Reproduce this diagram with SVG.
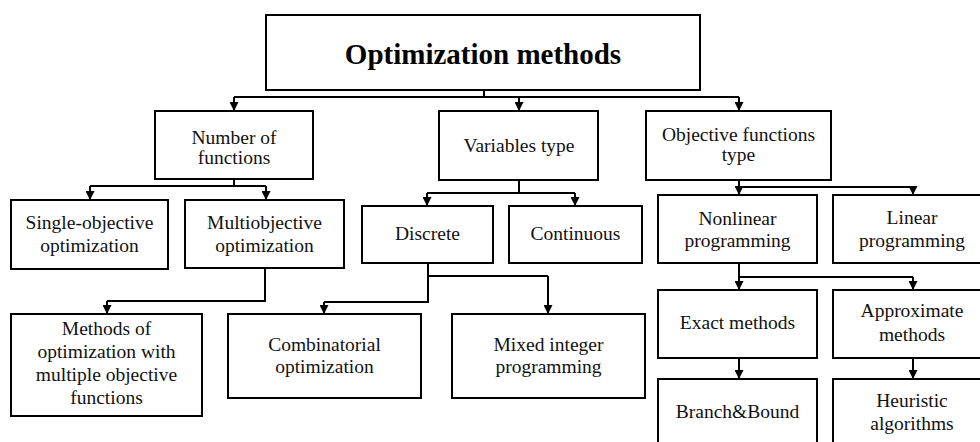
<svg xmlns="http://www.w3.org/2000/svg" width="980" height="442" viewBox="0 0 980 442">
<defs>
<marker id="arr" viewBox="0 0 10 10" refX="10" refY="5" markerWidth="9" markerHeight="9" markerUnits="userSpaceOnUse" orient="auto">
<path d="M0,0 L10,5 L0,10 z" fill="#000"/>
</marker>
<style>
.box{fill:#fff;stroke:#000;stroke-width:2}
.t{font-family:'Liberation Serif','Times New Roman',serif;font-size:19.5px;fill:#111;text-anchor:middle}
.title{font-family:'Liberation Serif','Times New Roman',serif;font-size:29px;font-weight:bold;fill:#000;text-anchor:middle}
.c{fill:none;stroke:#000;stroke-width:2}
.a{fill:none;stroke:#000;stroke-width:2;marker-end:url(#arr)}
</style>
</defs>
<rect width="980" height="442" fill="#fff"/>
<g id="connectors">
<path class="c" d="M484,90 V97 M234,97 H739"/>
<path class="a" d="M234,97 V111"/>
<path class="a" d="M519,97 V111"/>
<path class="a" d="M739,97 V111"/>
<path class="c" d="M234,179 V186 M90,186 H266"/>
<path class="a" d="M90,186 V200"/>
<path class="a" d="M266,186 V200"/>
<path class="c" d="M519,180 V193 M427,193 H575"/>
<path class="a" d="M427,193 V206"/>
<path class="a" d="M575,193 V206"/>
<path class="c" d="M739,180 V187 H913"/>
<path class="a" d="M739,187 V195"/>
<path class="a" d="M913,187 V195"/>
<path class="c" d="M265,268 V301 H107"/>
<path class="a" d="M107,301 V314"/>
<path class="c" d="M428,263 V302 H324 M428,276 H548"/>
<path class="a" d="M324,302 V314"/>
<path class="a" d="M548,276 V314"/>
<path class="c" d="M739,263 V277 H913"/>
<path class="a" d="M739,277 V290"/>
<path class="a" d="M913,277 V290"/>
<path class="a" d="M739,358 V379"/>
<path class="a" d="M913,358 V379"/>
</g>
<g id="root"><rect class="box" x="266" y="15" width="434" height="75"/><text class="title" x="483" y="64">Optimization methods</text></g>
<g id="number"><rect class="box" x="155" y="111" width="158" height="68"/><text class="t" x="234" y="144">Number of</text><text class="t" x="234" y="164">functions</text></g>
<g id="variables"><rect class="box" x="439" y="111" width="159" height="69"/><text class="t" x="519" y="152">Variables type</text></g>
<g id="objective"><rect class="box" x="646" y="111" width="185" height="69"/><text class="t" x="738.5" y="141">Objective functions</text><text class="t" x="738.5" y="161">type</text></g>
<g id="single"><rect class="box" x="11" y="200" width="157" height="69"/><text class="t" x="89.5" y="229">Single-objective</text><text class="t" x="89.5" y="252">optimization</text></g>
<g id="multi"><rect class="box" x="185" y="200" width="159" height="68"/><text class="t" x="264.5" y="229">Multiobjective</text><text class="t" x="264.5" y="252">optimization</text></g>
<g id="discrete"><rect class="box" x="362" y="206" width="131" height="57"/><text class="t" x="427.5" y="240">Discrete</text></g>
<g id="continuous"><rect class="box" x="509" y="206" width="133" height="57"/><text class="t" x="575.5" y="240">Continuous</text></g>
<g id="nonlinear"><rect class="box" x="658" y="195" width="159" height="68"/><text class="t" x="737.5" y="225">Nonlinear</text><text class="t" x="737.5" y="247">programming</text></g>
<g id="linear"><rect class="box" x="833" y="195" width="159" height="68"/><text class="t" x="912" y="224">Linear</text><text class="t" x="912" y="247">programming</text></g>
<g id="methods"><rect class="box" x="11" y="314" width="191" height="102"/><text class="t" x="106.5" y="335">Methods of</text><text class="t" x="106.5" y="358">optimization with</text><text class="t" x="106.5" y="381">multiple objective</text><text class="t" x="106.5" y="404">functions</text></g>
<g id="combinatorial"><rect class="box" x="228" y="314" width="193" height="84"/><text class="t" x="324.5" y="351">Combinatorial</text><text class="t" x="324.5" y="373">optimization</text></g>
<g id="mixed"><rect class="box" x="452" y="314" width="193" height="84"/><text class="t" x="548.5" y="351">Mixed integer</text><text class="t" x="548.5" y="373">programming</text></g>
<g id="exact"><rect class="box" x="658" y="290" width="159" height="68"/><text class="t" x="737.5" y="329">Exact methods</text></g>
<g id="approx"><rect class="box" x="833" y="290" width="159" height="68"/><text class="t" x="912" y="317">Approximate</text><text class="t" x="912" y="341">methods</text></g>
<g id="branch"><rect class="box" x="658" y="379" width="159" height="80"/><text class="t" x="737.5" y="418">Branch&amp;Bound</text></g>
<g id="heuristic"><rect class="box" x="833" y="379" width="159" height="80"/><text class="t" x="912" y="407">Heuristic</text><text class="t" x="912" y="430">algorithms</text></g>
</svg>
